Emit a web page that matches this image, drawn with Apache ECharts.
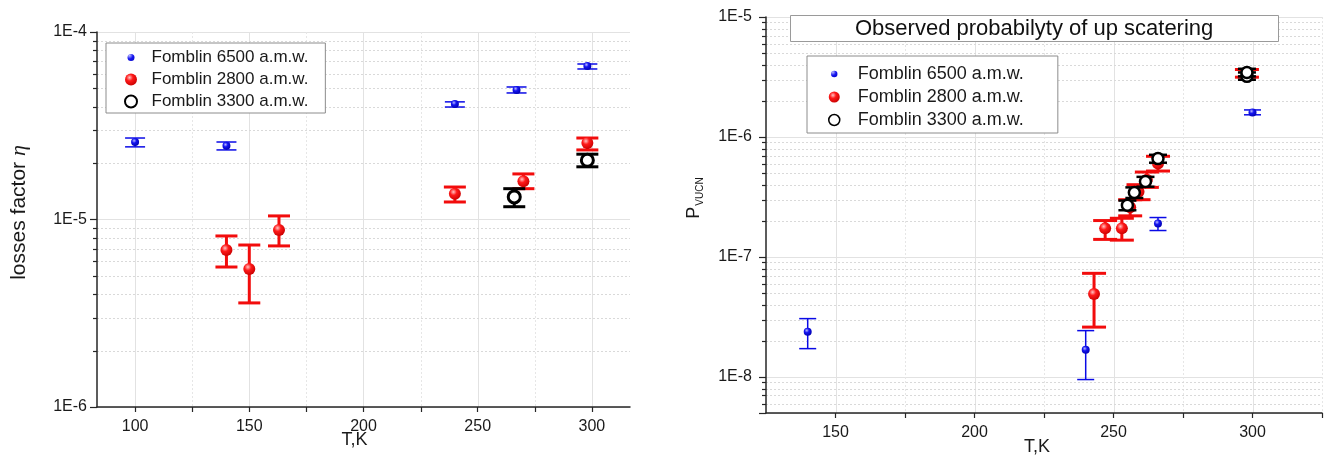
<!DOCTYPE html>
<html>
<head>
<meta charset="utf-8">
<script src="https://cdn.jsdelivr.net/npm/echarts@6.0.0/dist/echarts.min.js"></script>
<style>
  html, body { margin: 0; padding: 0; background: #fff; }
  #chart { width: 1328px; height: 455px; }
</style>
</head>
<body>
<div id="chart"></div>
<script>
// ---- Losses factor (left panel) ----
const tempL6500 = [100, 140, 240, 267, 298];
const etaL6500  = [2.59e-5, 2.47e-5, 4.13e-5, 4.91e-5, 6.59e-5];
const etaL6500Lo = [2.44e-5, 2.35e-5, 3.98e-5, 4.73e-5, 6.35e-5];
const etaL6500Hi = [2.72e-5, 2.59e-5, 4.24e-5, 5.09e-5, 6.75e-5];

const tempL2800 = [140, 150, 163, 240, 270, 298];
const etaL2800  = [6.87e-6, 5.45e-6, 8.8e-6, 1.37e-5, 1.60e-5, 2.56e-5];
const etaL2800Lo = [5.58e-6, 3.59e-6, 7.23e-6, 1.24e-5, 1.46e-5, 2.35e-5];
const etaL2800Hi = [8.17e-6, 7.31e-6, 1.045e-5, 1.49e-5, 1.75e-5, 2.72e-5];

const tempL3300 = [266, 298];
const etaL3300  = [1.32e-5, 2.07e-5];
const etaL3300Lo = [1.17e-5, 1.91e-5];
const etaL3300Hi = [1.46e-5, 2.23e-5];

// ---- Up-scattering probability (right panel) ----
const tempR6500 = [140, 240, 266, 300];
const probR6500 = [2.38e-8, 1.68e-8, 1.90e-7, 1.60e-6];
const probR6500Lo = [1.72e-8, 9.5e-9, 1.66e-7, 1.53e-6];
const probR6500Hi = [3.06e-8, 2.43e-8, 2.13e-7, 1.68e-6];

const tempR2800 = [243, 247, 253, 256, 259, 262, 266, 298];
const probR2800 = [4.9e-8, 1.73e-7, 1.73e-7, 2.6e-7, 3.5e-7, 4.4e-7, 6.0e-7, 3.4e-6];
const probR2800Lo = [2.6e-8, 1.40e-7, 1.38e-7, 2.2e-7, 3.0e-7, 3.8e-7, 5.2e-7, 3.15e-6];
const probR2800Hi = [7.3e-8, 2.01e-7, 2.1e-7, 3.0e-7, 4.0e-7, 5.1e-7, 6.9e-7, 3.65e-6];

const tempR3300 = [255, 257.5, 261.5, 266, 298, 298];
const probR3300 = [2.7e-7, 3.45e-7, 4.25e-7, 6.6e-7, 3.2e-6, 3.45e-6];
const probR3300Lo = [2.45e-7, 3.1e-7, 3.85e-7, 6.1e-7, 3.0e-6, 3.2e-6];
const probR3300Hi = [2.95e-7, 3.8e-7, 4.65e-7, 7.1e-7, 3.45e-6, 3.7e-6];

// ---- Axis ticks ----
const xMajorL = [100, 150, 200, 250, 300];
const xMinorL = [125, 175, 225, 275];
const xMajorR = [150, 200, 250, 300];
const xMinorR = [175, 225, 275, 325];

const NAME6500 = 'Fomblin 6500 a.m.w.';
const NAME2800 = 'Fomblin 2800 a.m.w.';
const NAME3300 = 'Fomblin 3300 a.m.w.';
const FONT = "'Liberation Sans', Arial, sans-serif";
const AXIS_COLOR = '#262626';

const BLUE = '#0a0ae6';
const RED = '#f20c0c';

function sphere(light, base, dark) {
  return {
    type: 'radial', x: 0.38, y: 0.34, r: 0.7,
    colorStops: [
      { offset: 0, color: light },
      { offset: 0.4, color: base },
      { offset: 1, color: dark }
    ]
  };
}
const blueBall = sphere('#b8b8ff', '#1414f0', '#0000b0');
const redBall = sphere('#ffc4c4', '#ff1a1a', '#c80000');

function zip3(t, lo, hi) { return t.map((v, i) => [v, lo[i], hi[i]]); }
function zip2(t, v) { return t.map((x, i) => [x, v[i]]); }

// minor log positions (2..9 × decade) inside [lo, hi]
function logMinors(lo, hi) {
  const out = [];
  for (let e = Math.floor(Math.log10(lo)); e < Math.ceil(Math.log10(hi)); e++) {
    for (let m = 2; m <= 9; m++) {
      const v = m * Math.pow(10, e);
      if (v > lo * 1.0001 && v < hi * 0.9999) out.push(v);
    }
  }
  return out;
}

function decadeLabel(v) {
  const e = Math.log10(v);
  const r = Math.round(e);
  if (Math.abs(e - r) > 1e-6) return '';
  return '1E' + r;
}

function errorBars(name, xi, data, color, width, capHalf, z) {
  return {
    type: 'custom', name: name + ' err', xAxisIndex: xi, yAxisIndex: xi,
    data: data, encode: { x: 0, y: [1, 2] }, z: z, silent: true,
    renderItem: function (params, api) {
      const t = api.value(0);
      const a = api.coord([t, api.value(2)]);
      const b = api.coord([t, api.value(1)]);
      const st = { stroke: color, lineWidth: width };
      return {
        type: 'group', children: [
          { type: 'line', shape: { x1: a[0], y1: a[1], x2: b[0], y2: b[1] }, style: st },
          { type: 'line', shape: { x1: a[0] - capHalf, y1: a[1], x2: a[0] + capHalf, y2: a[1] }, style: st },
          { type: 'line', shape: { x1: b[0] - capHalf, y1: b[1], x2: b[0] + capHalf, y2: b[1] }, style: st }
        ]
      };
    }
  };
}

// dotted minor grid + outward minor ticks along the log y axis
function minorYSeries(xi, xAny, values) {
  return {
    type: 'custom', xAxisIndex: xi, yAxisIndex: xi, silent: true, z: 0,
    data: values.map(v => [xAny, v]), encode: { x: 0, y: 1 },
    renderItem: function (params, api) {
      const cs = params.coordSys;
      const y = Math.round(api.coord([xAny, api.value(1)])[1]) + 0.5;
      return {
        type: 'group', children: [
          { type: 'line', shape: { x1: cs.x, y1: y, x2: cs.x + cs.width, y2: y },
            style: { stroke: '#d9d9d9', lineWidth: 1, lineDash: [2, 2] } },
          { type: 'line', shape: { x1: cs.x - 4, y1: y, x2: cs.x, y2: y },
            style: { stroke: AXIS_COLOR, lineWidth: 1.2 } }
        ]
      };
    }
  };
}

// vertical grid lines (solid majors, dotted minors) and minor x ticks
function xGridSeries(xi, yAny, majors, minors) {
  const data = majors.map(v => [v, yAny, 1]).concat(minors.map(v => [v, yAny, 0]));
  return {
    type: 'custom', xAxisIndex: xi, yAxisIndex: xi, silent: true, z: 0,
    data: data, encode: { x: 0, y: 1 },
    renderItem: function (params, api) {
      const cs = params.coordSys;
      const x = Math.round(api.coord([api.value(0), yAny])[0]) + 0.5;
      const major = api.value(2) === 1;
      const kids = [
        { type: 'line', shape: { x1: x, y1: cs.y, x2: x, y2: cs.y + cs.height },
          style: major ? { stroke: '#e2e2e2', lineWidth: 1 }
                       : { stroke: '#e6e6e6', lineWidth: 1, lineDash: [2, 2] } }
      ];
      if (!major) {
        kids.push({ type: 'line', shape: { x1: x, y1: cs.y + cs.height, x2: x, y2: cs.y + cs.height + 5 },
          style: { stroke: AXIS_COLOR, lineWidth: 1.2 } });
      }
      return { type: 'group', children: kids };
    }
  };
}

function xAxisCfg(gi, min, max, majors, name, nameGap, namePad) {
  return {
    type: 'value', gridIndex: gi, min: min, max: max,
    axisLine: { show: true, onZero: false, lineStyle: { color: AXIS_COLOR, width: 1.5 } },
    axisTick: { show: true, customValues: majors, length: 5, inside: false, lineStyle: { color: AXIS_COLOR, width: 1.2 } },
    axisLabel: { customValues: majors, fontSize: 16, margin: 12, color: '#1a1a1a', fontFamily: FONT },
    splitLine: { show: false },
    name: name, nameLocation: 'middle', nameGap: nameGap, nameMoveOverlap: false,
    nameTextStyle: { fontSize: 18, color: '#1a1a1a', fontFamily: FONT, padding: namePad }
  };
}

function yAxisCfg(gi, min, max, labelMargin) {
  return {
    type: 'log', logBase: 10, gridIndex: gi, min: min, max: max,
    axisLine: { show: true, onZero: false, lineStyle: { color: AXIS_COLOR, width: 1.5 } },
    axisTick: { show: true, length: 7, inside: false, lineStyle: { color: AXIS_COLOR, width: 1.2 } },
    axisLabel: { formatter: decadeLabel, fontSize: 16, margin: labelMargin, color: '#1a1a1a', fontFamily: FONT },
    splitLine: { show: true, lineStyle: { color: '#e2e2e2', width: 1 } },
    nameMoveOverlap: false
  };
}

const yL = yAxisCfg(0, 1e-6, 1e-4, 10);
yL.name = '{a|losses factor }{b|η}';
yL.nameLocation = 'middle';
yL.nameGap = 67;
yL.nameTextStyle = {
  padding: [0, 0, 0, 14],
  rich: {
    a: { fontSize: 21, fontFamily: FONT, color: '#1a1a1a' },
    b: { fontSize: 22, fontFamily: "'Liberation Serif', 'DejaVu Serif', serif", fontStyle: 'italic', color: '#1a1a1a' }
  }
};

const yR = yAxisCfg(1, 5e-9, 1e-5, 14);
yR.name = '{p|P}{s|VUCN}';
yR.nameLocation = 'middle';
yR.nameGap = 61;
yR.nameTextStyle = {
  padding: [0, 0, 0, 34],
  rich: {
    p: { fontSize: 18, lineHeight: 20, verticalAlign: 'top', fontFamily: FONT, color: '#1a1a1a' },
    s: { fontSize: 10, lineHeight: 11, padding: [14, 0, 0, 1], verticalAlign: 'bottom', fontFamily: FONT, color: '#1a1a1a' }
  }
};

// small-dot legend icon: circle inside a padded 24×24 frame
const smallDot = 'path://M0,0M24,24M12,5A7,7,0,1,1,12,19A7,7,0,1,1,12,5Z';

const option = {
  backgroundColor: '#ffffff',
  animation: false,
  textStyle: { fontFamily: FONT },
  title: {
    text: 'Observed probabilyty of up scatering',
    left: 790, top: 15,
    padding: [3, 65, 2, 65],
    borderColor: '#9a9a9a', borderWidth: 1, backgroundColor: '#ffffff',
    textStyle: { fontSize: 22, fontWeight: 'normal', color: '#111', fontFamily: FONT }
  },
  legend: [
    {
      left: 106, top: 43, orient: 'vertical',
      padding: [6, 17, 3, 18], itemGap: 5,
      itemWidth: 31, itemHeight: 12,
      borderColor: '#8c8c8c', borderWidth: 1, backgroundColor: '#ffffff',
      textStyle: { fontSize: 17, color: '#1a1a1a', fontFamily: FONT },
      selectedMode: false,
      data: [
        { name: NAME6500, icon: smallDot },
        { name: NAME2800, icon: 'circle' },
        { name: NAME3300, icon: 'circle' }
      ]
    },
    {
      left: 807, top: 56, orient: 'vertical',
      padding: [9, 34, 4, 21], itemGap: 5,
      itemWidth: 37, itemHeight: 11,
      borderColor: '#8c8c8c', borderWidth: 1, backgroundColor: '#ffffff',
      textStyle: { fontSize: 18, color: '#1a1a1a', fontFamily: FONT },
      selectedMode: false,
      data: [
        { name: NAME6500, icon: smallDot },
        { name: NAME2800, icon: 'circle' },
        { name: NAME3300, icon: 'circle', itemStyle: { borderWidth: 1.5, color: '#ffffff', borderColor: '#000' } }
      ]
    }
  ],
  grid: [
    { left: 97, top: 32, width: 533, height: 375, outerBoundsMode: 'none', containLabel: false },
    { left: 766, top: 17, width: 556, height: 396, outerBoundsMode: 'none', containLabel: false }
  ],
  xAxis: [
    xAxisCfg(0, 83.33, 316.67, xMajorL, 'T,K', 24, [0, 18, 0, 0]),
    xAxisCfg(1, 125, 325, xMajorR, 'T,K', 25, [0, 14, 0, 0])
  ],
  yAxis: [yL, yR],
  series: [
    xGridSeries(0, 1e-5, xMajorL, xMinorL),
    minorYSeries(0, 200, logMinors(1e-6, 1e-4)),
    xGridSeries(1, 1e-7, xMajorR, xMinorR),
    minorYSeries(1, 200, logMinors(5e-9, 1e-5)),

    // left panel
    errorBars(NAME6500, 0, zip3(tempL6500, etaL6500Lo, etaL6500Hi), BLUE, 1.5, 10, 2),
    errorBars(NAME2800, 0, zip3(tempL2800, etaL2800Lo, etaL2800Hi), RED, 3, 11, 2),
    {
      type: 'scatter', name: NAME6500, xAxisIndex: 0, yAxisIndex: 0, z: 3,
      data: zip2(tempL6500, etaL6500), symbol: 'circle', symbolSize: 8,
      itemStyle: { color: blueBall, opacity: 1 }
    },
    {
      type: 'scatter', name: NAME2800, xAxisIndex: 0, yAxisIndex: 0, z: 3,
      data: zip2(tempL2800, etaL2800), symbol: 'circle', symbolSize: 12,
      itemStyle: { color: redBall, opacity: 1 }
    },
    errorBars(NAME3300, 0, zip3(tempL3300, etaL3300Lo, etaL3300Hi), '#000', 3, 11, 4),
    {
      type: 'scatter', name: NAME3300, xAxisIndex: 0, yAxisIndex: 0, z: 5,
      data: zip2(tempL3300, etaL3300), symbol: 'circle', symbolSize: 12,
      itemStyle: { color: '#ffffff', borderColor: '#000', borderWidth: 3, opacity: 1 }
    },

    // right panel
    errorBars(NAME6500, 1, zip3(tempR6500, probR6500Lo, probR6500Hi), BLUE, 1.5, 8.5, 2),
    errorBars(NAME2800, 1, zip3(tempR2800, probR2800Lo, probR2800Hi), RED, 3, 12, 2),
    {
      type: 'scatter', name: NAME6500, xAxisIndex: 1, yAxisIndex: 1, z: 3,
      data: zip2(tempR6500, probR6500), symbol: 'circle', symbolSize: 8,
      itemStyle: { color: blueBall, opacity: 1 }
    },
    {
      type: 'scatter', name: NAME2800, xAxisIndex: 1, yAxisIndex: 1, z: 3,
      data: zip2(tempR2800, probR2800), symbol: 'circle', symbolSize: 12,
      itemStyle: { color: redBall, opacity: 1 }
    },
    errorBars(NAME3300, 1, zip3(tempR3300, probR3300Lo, probR3300Hi), '#000', 2.5, 9, 4),
    {
      type: 'scatter', name: NAME3300, xAxisIndex: 1, yAxisIndex: 1, z: 5,
      data: zip2(tempR3300, probR3300), symbol: 'circle', symbolSize: 11,
      itemStyle: { color: '#ffffff', borderColor: '#000', borderWidth: 2.5, opacity: 1 }
    }
  ]
};

const chart = echarts.init(document.getElementById('chart'), null, { renderer: 'canvas' });
chart.setOption(option);
</script>
</body>
</html>
